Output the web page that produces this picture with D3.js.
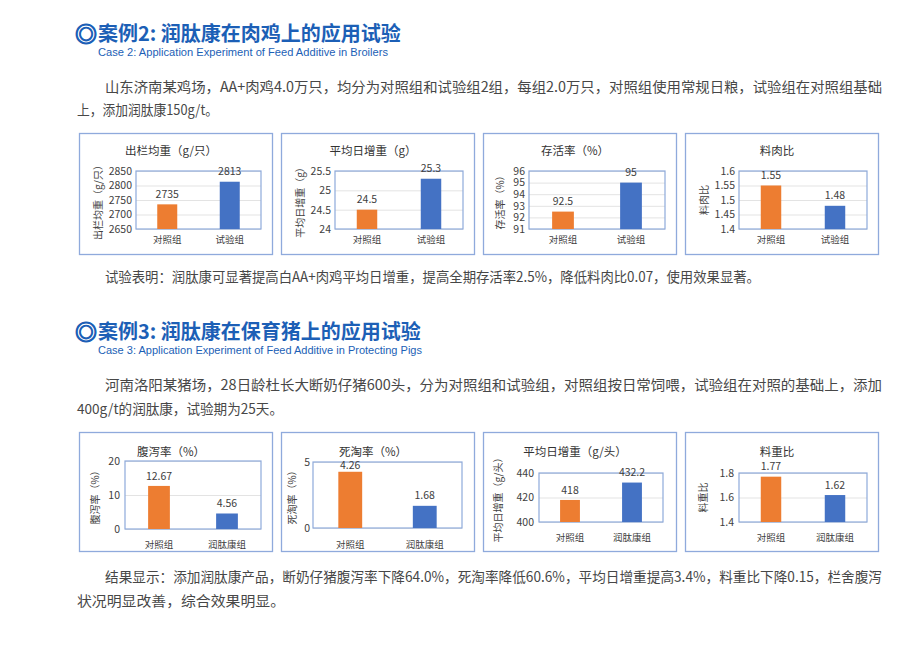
<!DOCTYPE html>
<html>
<head>
<meta charset="utf-8">
<script src="https://cdn.jsdelivr.net/npm/d3@7"></script>
<style>
  body { margin: 0; background: #fff; }
  svg text { font-family: "Noto Sans CJK SC", "Noto Sans", sans-serif; }
</style>
</head>
<body>
<div id="chart"></div>
<script>
// Case 2 (broilers)
var broilerGroups = ['对照组', '试验组'];
var broilerTitles = ['出栏均重（g/只）', '平均日增重（g）', '存活率（%）', '料肉比'];
var broilerValues = [[2735, 2813], [24.5, 25.3], [92.5, 95], [1.55, 1.48]];
var broilerTicks = [
  [2650, 2700, 2750, 2800, 2850],
  [24, 24.5, 25, 25.5],
  [91, 92, 93, 94, 95, 96],
  [1.4, 1.45, 1.5, 1.55, 1.6]
];

// Case 3 (piglets)
var pigGroups = ['对照组', '润肽康组'];
var pigTitles = ['腹泻率（%）', '死淘率（%）', '平均日增重（g/头）', '料重比'];
var pigValues = [[12.67, 4.56], [4.26, 1.68], [418, 432.2], [1.77, 1.62]];
var pigTicks = [[0, 10, 20], [0, 5], [400, 420, 440], [1.4, 1.6, 1.8]];

var headings = ['案例2: 润肽康在肉鸡上的应用试验', '案例3: 润肽康在保育猪上的应用试验'];
var subHeadings = [
  'Case 2: Application Experiment of Feed Additive in Broilers',
  'Case 3: Application Experiment of Feed Additive in Protecting Pigs'
];
var introLines = [
  ['山东济南某鸡场，AA+肉鸡4.0万只，均分为对照组和试验组2组，每组2.0万只，对照组使用常规日粮，试验组在对照组基础',
   '上，添加润肽康150g/t。'],
  ['河南洛阳某猪场，28日龄杜长大断奶仔猪600头，分为对照组和试验组，对照组按日常饲喂，试验组在对照的基础上，添加',
   '400g/t的润肽康，试验期为25天。']
];
var resultLines = [
  ['试验表明：润肽康可显著提高白AA+肉鸡平均日增重，提高全期存活率2.5%，降低料肉比0.07，使用效果显著。'],
  ['结果显示：添加润肽康产品，断奶仔猪腹泻率下降64.0%，死淘率降低60.6%，平均日增重提高3.4%，料重比下降0.15，栏舍腹泻',
   '状况明显改善，综合效果明显。']
];

var blue = '#1c5fb6';
var textColour = '#474747';
var barColours = ['#ED7D31', '#4472C4'];

var svg = d3.select('#chart')
  .append('svg')
  .attr('width', 924)
  .attr('height', 656);

function drawHeading(i, y) {
  svg.append('text')
    .attr('x', 75).attr('y', y + 1)
    .style('font-size', '22px').style('font-weight', 'bold')
    .style('fill', blue)
    .style('stroke', blue)
    .style('stroke-width', 1.1)
    .text('◎');
  svg.append('text')
    .attr('x', 98).attr('y', y)
    .style('font-size', '20px').style('font-weight', 'bold')
    .style('fill', blue)
    .text(headings[i]);
  svg.append('text')
    .attr('x', 98).attr('y', y + 15)
    .style('font-family', '"Liberation Sans", Arial, sans-serif')
    .style('font-size', '11.5px')
    .style('fill', blue)
    .attr('textLength', i === 0 ? 290 : 324)
    .attr('lengthAdjust', 'spacingAndGlyphs')
    .text(subHeadings[i]);
}

// lines: [text, x, baseline y, width]
function drawParagraph(lines) {
  lines.forEach(l => {
    svg.append('text')
      .attr('x', l[1]).attr('y', l[2])
      .style('font-size', '14px')
      .style('fill', textColour)
      .attr('textLength', l[3])
      .attr('lengthAdjust', 'spacingAndGlyphs')
      .text(l[0]);
  });
}

// One small bar chart inside a bordered box
function drawPanel(box, groups, title, values, ticks) {
  var g = svg.append('g')
    .attr('transform', 'translate(' + box.x + ',' + box.y + ')');

  g.append('rect')
    .attr('x', 0.5).attr('y', 0.5)
    .attr('width', 193).attr('height', box.h)
    .style('fill', '#fff')
    .style('stroke', '#8faadc')
    .style('stroke-width', 1.3);

  var w = box.plotRight - box.plotLeft;
  var h = box.plotBottom - box.plotTop;
  var plot = g.append('g')
    .attr('transform', 'translate(' + box.plotLeft + ',' + box.plotTop + ')');

  var x = d3.scaleBand()
    .domain(groups)
    .range([0, w])
    .paddingInner(0.68)
    .paddingOuter(0.34);

  var y = d3.scaleLinear()
    .domain(d3.extent(ticks))
    .range([h, 0]);

  // gridlines
  plot.append('g')
    .call(d3.axisLeft(y).tickValues(ticks).tickSize(-w).tickFormat(''))
    .call(a => a.select('.domain').remove())
    .selectAll('line')
    .style('stroke', '#e3e3e3');

  plot.append('rect')
    .attr('width', w).attr('height', h)
    .style('fill', 'none')
    .style('stroke', '#8eaadb')
    .style('stroke-width', 1.2);

  plot.selectAll('rect.bar')
    .data(values)
    .enter()
    .append('rect')
    .attr('class', 'bar')
    .attr('x', (d, i) => x(groups[i]))
    .attr('y', d => y(d))
    .attr('width', x.bandwidth())
    .attr('height', d => h - y(d))
    .style('fill', (d, i) => barColours[i]);

  // value labels sit above the bars but keep clear of the chart title
  var minLabelY = box.titleY + 13 - box.plotTop;
  plot.selectAll('text.value')
    .data(values)
    .enter()
    .append('text')
    .attr('class', 'value')
    .attr('x', (d, i) => x(groups[i]) + x.bandwidth() / 2)
    .attr('y', d => Math.max(y(d) - 10, minLabelY))
    .attr('dy', '0.35em')
    .attr('text-anchor', 'middle')
    .style('font-size', '10.5px')
    .style('fill', '#404040')
    .text(d => String(d));

  // y tick labels
  plot.append('g')
    .call(d3.axisLeft(y).tickValues(ticks).tickSize(0).tickPadding(box.tickPad).tickFormat(d => String(d)))
    .call(a => a.select('.domain').remove())
    .selectAll('text')
    .style('font-family', '"Noto Sans CJK SC", sans-serif')
    .style('font-size', '10.5px')
    .style('fill', '#404040');

  // category labels
  plot.append('g')
    .attr('transform', 'translate(0,' + (box.catY - box.plotTop) + ')')
    .call(d3.axisBottom(x).tickSize(0).tickPadding(0))
    .call(a => a.select('.domain').remove())
    .selectAll('text')
    .attr('dy', '0.35em')
    .style('font-family', '"Noto Sans CJK SC", sans-serif')
    .style('font-size', '9.5px')
    .style('fill', '#404040');

  g.append('text')
    .attr('x', 92).attr('y', box.titleY)
    .attr('dy', '0.35em')
    .attr('text-anchor', 'middle')
    .style('font-size', '11.5px')
    .style('fill', '#333')
    .text(title);

  g.append('text')
    .attr('transform', 'translate(' + box.yTitleX + ',' + (box.plotTop + box.plotBottom) / 2 + ') rotate(-90)')
    .attr('dy', '0.35em')
    .attr('text-anchor', 'middle')
    .style('font-size', '10px')
    .style('fill', '#404040')
    .text(title);
}

var panelXs = [79, 281, 483, 685];

function topRowBox(i) {
  return {
    x: panelXs[i], y: 133, h: 121,
    plotLeft: [57, 54, 46, 54][i], plotRight: 182,
    plotTop: 38, plotBottom: 96,
    titleY: 18, catY: 107, yTitleX: [19, 19, 17, 19][i], tickPad: 4
  };
}

function bottomRowBox(i) {
  return {
    x: panelXs[i], y: 432, h: 119,
    plotLeft: [46, 32, 56, 54][i], plotRight: [182, 181, 180, 182][i],
    plotTop: [29, 30, 41, 41][i], plotBottom: [97, 96, 90, 90][i],
    titleY: 20, catY: [113, 113, 106, 106][i],
    yTitleX: [16, 11, 15, 18][i], tickPad: [5, 3, 5, 5][i]
  };
}

drawHeading(0, 41);
drawParagraph([
  [introLines[0][0], 105, 92, 777],
  [introLines[0][1], 77, 115, 141]
]);
broilerTitles.forEach((t, i) => drawPanel(topRowBox(i), broilerGroups, t, broilerValues[i], broilerTicks[i]));
drawParagraph([[resultLines[0][0], 105, 282, 655]]);

drawHeading(1, 339);
drawParagraph([
  [introLines[1][0], 105, 390, 777],
  [introLines[1][1], 77, 414, 206]
]);
pigTitles.forEach((t, i) => drawPanel(bottomRowBox(i), pigGroups, t, pigValues[i], pigTicks[i]));
drawParagraph([
  [resultLines[1][0], 105, 582, 777],
  [resultLines[1][1], 77, 606, 208]
]);
</script>
</body>
</html>
